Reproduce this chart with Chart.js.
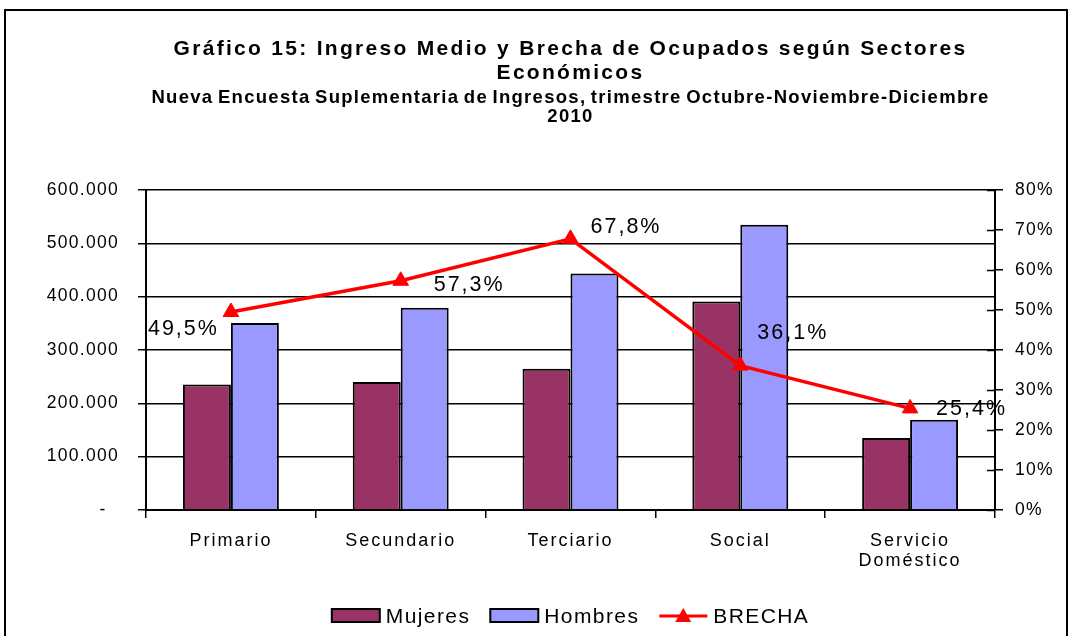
<!DOCTYPE html>
<html>
<head>
<meta charset="utf-8">
<script src="https://cdn.jsdelivr.net/npm/chart.js@4/dist/chart.umd.min.js"></script>
<style>
  html, body { margin: 0; padding: 0; background: #fff; }
  #wrap { position: relative; width: 1071px; height: 636px; }
  #frame { position: absolute; left: 4px; top: 9px; width: 1060px; height: 640px; border: 2px solid #000; pointer-events: none; }
  canvas { position: absolute; left: 0; top: 0; }
</style>
</head>
<body>
<div id="wrap">
  <canvas id="c" width="1071" height="636"></canvas>
  <div id="frame"></div>
</div>
<script>
// ---- data ----
const categories = ['Primario', 'Secundario', 'Terciario', 'Social', ['Servicio', 'Doméstico']];
const mujeres = [235500, 240000, 265000, 391000, 135000];
const hombres = [350500, 379000, 443500, 535000, 169000];
const brecha = [49.5, 57.3, 67.8, 36.1, 25.4];
const brechaLabels = ['49,5%', '57,3%', '67,8%', '36,1%', '25,4%'];
const leftTicks = [0, 100000, 200000, 300000, 400000, 500000, 600000];
const rightTicks = [0, 10, 20, 30, 40, 50, 60, 70, 80];

const FONT = '"Liberation Sans", Arial, Helvetica, sans-serif';

// letter / word spacing keyed by weight+size (style only)
const spacingByFont = {
  'b21': { ls: 2.3, ws: 0 },     // title
  'b18.5': { ls: 1.3, ws: -2 },  // subtitle
  '17.5': { ls: 1.3, ws: 0 },    // y ticks
  '18': { ls: 2.0, ws: 0 },      // x ticks
  '21.5': { ls: 2.0, ws: 0 },    // data labels
  '21': { ls: 1.4, ws: 0 }       // legend
};

// label placement relative to each point (style only)
const labelOffsets = [
  { dx: -12, dy: 17, align: 'right' },
  { dx: 33, dy: 4, align: 'left' },
  { dx: 20, dy: -12, align: 'left' },
  { dx: 17, dy: -33, align: 'left' },
  { dx: 26, dy: 1, align: 'left' }
];

function fmtThousands(v) {
  if (v === 0) return '-  ';
  return String(v).replace(/\B(?=(\d{3})+(?!\d))/g, '.');
}

const spacingPlugin = {
  id: 'spacingPlugin',
  beforeInit(chart) {
    const ctx = chart.ctx;
    if (ctx.__spaced) return;
    ctx.__spaced = true;
    const origFill = ctx.fillText.bind(ctx);
    ctx.fillText = function (text, x, y, maxWidth) {
      const f = ctx.font;
      const m = /(\d+(?:\.\d+)?)px/.exec(f);
      const key = (/bold|700/.test(f) ? 'b' : '') + (m ? m[1] : '');
      const sp = spacingByFont[key] || { ls: 0, ws: 0 };
      const prevL = ctx.letterSpacing, prevW = ctx.wordSpacing;
      ctx.letterSpacing = sp.ls + 'px';
      ctx.wordSpacing = sp.ws + 'px';
      if (maxWidth !== undefined) origFill(text, x, y, maxWidth * 2);
      else origFill(text, x, y);
      ctx.letterSpacing = prevL;
      ctx.wordSpacing = prevW;
    };
  }
};

const dataLabelPlugin = {
  id: 'dataLabelPlugin',
  afterDatasetsDraw(chart) {
    const meta = chart.getDatasetMeta(2);
    const ctx = chart.ctx;
    ctx.save();
    ctx.font = '21.5px ' + FONT;
    ctx.fillStyle = '#000';
    ctx.textBaseline = 'middle';
    meta.data.forEach((pt, i) => {
      const o = labelOffsets[i];
      ctx.textAlign = o.align;
      ctx.fillText(brechaLabels[i], pt.x + o.dx, pt.y + o.dy);
    });
    ctx.restore();
  }
};

const innerTicksPlugin = {
  id: 'innerTicksPlugin',
  afterDraw(chart) {
    const ctx = chart.ctx;
    const y1 = chart.scales.y1;
    ctx.save();
    ctx.strokeStyle = '#000';
    ctx.lineWidth = 1.5;
    rightTicks.forEach(t => {
      const y = Math.round(y1.getPixelForValue(t)) + 0.5;
      ctx.beginPath();
      ctx.moveTo(y1.left - 8, y);
      ctx.lineTo(y1.left, y);
      ctx.stroke();
    });
    ctx.restore();
  }
};

const legendPlugin = {
  id: 'customLegend',
  afterDraw(chart) {
    const ctx = chart.ctx;
    const items = [
      { text: 'Mujeres', type: 'box', color: '#993366' },
      { text: 'Hombres', type: 'box', color: '#9999FF' },
      { text: 'BRECHA', type: 'line', color: '#FF0000' }
    ];
    ctx.save();
    ctx.font = '21px ' + FONT;
    ctx.letterSpacing = '1.4px';
    const sw = 48, gap = 6, itemGap = 20;
    let total = 0;
    items.forEach((it, i) => {
      it.w = sw + gap + ctx.measureText(it.text).width;
      total += it.w + (i ? itemGap : 0);
    });
    ctx.letterSpacing = '0px';
    const ca = chart.chartArea;
    let x = (ca.left + ca.right) / 2 - total / 2;
    const y = 616;
    items.forEach(it => {
      if (it.type === 'box') {
        ctx.fillStyle = it.color;
        ctx.fillRect(x, y - 7, sw, 13);
        ctx.strokeStyle = '#000';
        ctx.lineWidth = 2;
        ctx.strokeRect(x, y - 7, sw, 13);
      } else {
        ctx.strokeStyle = it.color;
        ctx.lineWidth = 3;
        ctx.beginPath();
        ctx.moveTo(x, y);
        ctx.lineTo(x + sw, y);
        ctx.stroke();
        ctx.fillStyle = it.color;
        ctx.beginPath();
        ctx.moveTo(x + sw / 2, y - 8);
        ctx.lineTo(x + sw / 2 + 8, y + 6);
        ctx.lineTo(x + sw / 2 - 8, y + 6);
        ctx.closePath();
        ctx.fill();
      }
      ctx.fillStyle = '#000';
      ctx.textAlign = 'left';
      ctx.textBaseline = 'middle';
      ctx.fillText(it.text, x + sw + gap, y + 1);
      x += it.w + itemGap;
    });
    ctx.restore();
  }
};

new Chart(document.getElementById('c'), {
  data: {
    labels: categories,
    datasets: [
      {
        type: 'bar', label: 'Mujeres', data: mujeres, yAxisID: 'y',
        backgroundColor: '#993366', borderColor: '#000', borderWidth: 2,
        categoryPercentage: 0.565, barPercentage: 1, order: 2
      },
      {
        type: 'bar', label: 'Hombres', data: hombres, yAxisID: 'y',
        backgroundColor: '#9999FF', borderColor: '#000', borderWidth: 2,
        categoryPercentage: 0.565, barPercentage: 1, order: 2
      },
      {
        type: 'line', label: 'BRECHA', data: brecha, yAxisID: 'y1',
        borderColor: '#FF0000', backgroundColor: '#FF0000', borderWidth: 3.5,
        pointStyle: 'triangle', pointRadius: 9, pointBackgroundColor: '#FF0000',
        pointBorderColor: '#FF0000', pointBorderWidth: 1, tension: 0, order: 1
      }
    ]
  },
  options: {
    responsive: false,
    animation: false,
    devicePixelRatio: 1,
    layout: { padding: { left: 0, right: 0, top: 0, bottom: 60 } },
    plugins: {
      legend: { display: false },
      tooltip: { enabled: false },
      title: {
        display: true,
        fullSize: false,
        text: ['Gráfico 15: Ingreso Medio y Brecha de Ocupados según Sectores', 'Económicos'],
        color: '#000',
        font: { family: FONT, size: 21, weight: 'bold', lineHeight: 1.14 },
        padding: { top: 37, bottom: 3 }
      },
      subtitle: {
        display: true,
        fullSize: false,
        text: ['Nueva Encuesta Suplementaria de Ingresos, trimestre Octubre-Noviembre-Diciembre', '2010'],
        color: '#000',
        font: { family: FONT, size: 18.5, weight: 'bold', lineHeight: 1.03 },
        padding: { top: 0, bottom: 64 }
      }
    },
    scales: {
      x: {
        grid: { display: true, offset: true, drawOnChartArea: false, color: '#000', lineWidth: 1.5, tickLength: 8 },
        border: { display: true, color: '#000', width: 2 },
        ticks: { color: '#000', font: { family: FONT, size: 18, lineHeight: 1.1 }, padding: 13, maxRotation: 0, autoSkip: false },
        afterFit(s) { s.height = 66; }
      },
      y: {
        position: 'left',
        min: 0, max: 600000,
        afterBuildTicks(s) { s.ticks = leftTicks.map(v => ({ value: v })); },
        grid: { color: '#000', lineWidth: 1.5, tickLength: 8 },
        border: { display: true, color: '#000', width: 2 },
        ticks: { color: '#000', font: { family: FONT, size: 17.5 }, padding: 19, callback: v => fmtThousands(v) },
        afterFit(s) { s.width = 146; }
      },
      y1: {
        position: 'right',
        min: 0, max: 80,
        afterBuildTicks(s) { s.ticks = rightTicks.map(v => ({ value: v })); },
        grid: { drawOnChartArea: false, color: '#000', lineWidth: 1.5, tickLength: 8 },
        border: { display: true, color: '#000', width: 2 },
        ticks: { color: '#000', font: { family: FONT, size: 17.5 }, padding: 12, callback: v => v + '%' },
        afterFit(s) { s.width = 76; }
      }
    }
  },
  plugins: [spacingPlugin, dataLabelPlugin, innerTicksPlugin, legendPlugin]
});
</script>
</body>
</html>
